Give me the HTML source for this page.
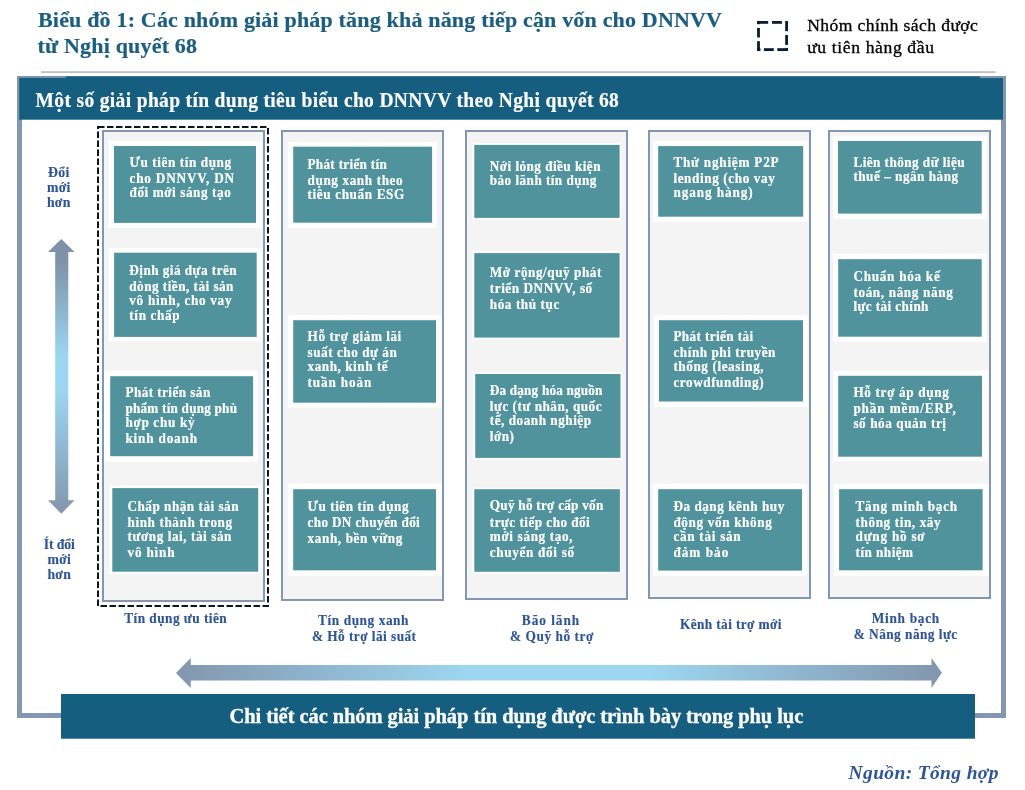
<!DOCTYPE html>
<html><head><meta charset="utf-8"><title>Biểu đồ 1</title>
<style>html,body{margin:0;padding:0;background:#fff;} svg{display:block;will-change:transform;} text{font-family:"Liberation Serif", serif;}</style>
</head><body>
<svg width="1025" height="790" viewBox="0 0 1025 790">
<rect x="0" y="0" width="1025" height="790" fill="#ffffff"/>
<text x="38.00" y="26.50" font-size="22" fill="#1b5e80" font-weight="bold" font-style="normal" text-anchor="start" textLength="684.0" lengthAdjust="spacing" stroke="#1b5e80" stroke-width="0.2" >Biểu đồ 1: Các nhóm giải pháp tăng khả năng tiếp cận vốn cho DNNVV</text>
<text x="37.50" y="52.50" font-size="22" fill="#1b5e80" font-weight="bold" font-style="normal" text-anchor="start" textLength="159.5" lengthAdjust="spacing" stroke="#1b5e80" stroke-width="0.2" >từ Nghị quyết 68</text>
<rect x="757.10" y="21.00" width="11.10" height="2.80" fill="#0b1f30" />
<rect x="772.00" y="21.00" width="9.90" height="2.80" fill="#0b1f30" />
<rect x="785.20" y="21.00" width="2.80" height="10.20" fill="#0b1f30" />
<rect x="785.20" y="35.00" width="2.80" height="9.90" fill="#0b1f30" />
<rect x="785.20" y="47.90" width="2.80" height="3.10" fill="#0b1f30" />
<rect x="757.10" y="48.20" width="3.30" height="2.80" fill="#0b1f30" />
<rect x="763.90" y="48.20" width="9.90" height="2.80" fill="#0b1f30" />
<rect x="777.30" y="48.20" width="10.70" height="2.80" fill="#0b1f30" />
<rect x="757.10" y="21.00" width="2.80" height="3.20" fill="#0b1f30" />
<rect x="757.10" y="27.90" width="2.80" height="9.60" fill="#0b1f30" />
<rect x="757.10" y="41.20" width="2.80" height="9.80" fill="#0b1f30" />
<text transform="translate(807.20 31.00) scale(1.06 1)" font-size="16.6" fill="#000000" font-weight="normal" font-style="normal" text-anchor="start" textLength="161.0" lengthAdjust="spacing" stroke="#000000" stroke-width="0.3" >Nhóm chính sách được</text>
<text transform="translate(807.20 52.60) scale(1.06 1)" font-size="16.6" fill="#000000" font-weight="normal" font-style="normal" text-anchor="start" textLength="119.6" lengthAdjust="spacing" stroke="#000000" stroke-width="0.3" >ưu tiên hàng đầu</text>
<rect x="41.00" y="71.20" width="954.60" height="1.80" fill="#bfbfbf" />
<rect x="19.5" y="78.5" width="984" height="637" fill="none" stroke="#8497b0" stroke-width="5"/>
<rect x="19.20" y="76.40" width="983.80" height="43.30" fill="#165e80" />
<rect x="17.20" y="76.10" width="48.60" height="1.80" fill="#8497b0" />
<rect x="979.90" y="76.00" width="26.00" height="2.10" fill="#8497b0" />
<text transform="translate(35.60 106.80) scale(0.93 1)" font-size="21" fill="#ffffff" font-weight="bold" font-style="normal" text-anchor="start" textLength="627.2" lengthAdjust="spacing" stroke="#ffffff" stroke-width="0.2" >Một số giải pháp tín dụng tiêu biểu cho DNNVV theo Nghị quyết 68</text>
<rect x="98" y="127" width="170" height="479" fill="none" stroke="#0d1520" stroke-width="2" stroke-dasharray="6.5 2.5"/>
<rect x="103.00" y="131.00" width="161.00" height="470.00" fill="#f4f4f4" stroke="#8497b0" stroke-width="2"/>
<rect x="282.00" y="131.00" width="161.00" height="469.00" fill="#f4f4f4" stroke="#8497b0" stroke-width="2"/>
<rect x="466.00" y="131.00" width="161.00" height="468.00" fill="#f4f4f4" stroke="#8497b0" stroke-width="2"/>
<rect x="649.00" y="131.00" width="161.00" height="467.00" fill="#f4f4f4" stroke="#8497b0" stroke-width="2"/>
<rect x="829.00" y="131.00" width="161.00" height="467.00" fill="#f4f4f4" stroke="#8497b0" stroke-width="2"/>
<rect x="108.70" y="140.80" width="152.90" height="86.90" fill="#ffffff" />
<rect x="114.00" y="146.00" width="142.00" height="76.90" fill="#50939c" />
<text transform="translate(129.50 166.60) scale(0.93 1)" font-size="14.2" fill="#ffffff" font-weight="bold" font-style="normal" text-anchor="start" textLength="109.7" lengthAdjust="spacing" stroke="#ffffff" stroke-width="0.2" id="c0_0" letter-spacing="0.484">Ưu tiên tín dụng</text>
<text transform="translate(129.50 183.20) scale(0.93 1)" font-size="14.2" fill="#ffffff" font-weight="bold" font-style="normal" text-anchor="start" textLength="112.9" lengthAdjust="spacing" stroke="#ffffff" stroke-width="0.2" id="c0_1" letter-spacing="0.484">cho DNNVV, DN</text>
<text transform="translate(129.50 197.30) scale(0.93 1)" font-size="14.2" fill="#ffffff" font-weight="bold" font-style="normal" text-anchor="start" textLength="109.4" lengthAdjust="spacing" stroke="#ffffff" stroke-width="0.2" id="c0_2" letter-spacing="0.484">đối mới sáng tạo</text>
<rect x="108.70" y="248.10" width="153.50" height="93.30" fill="#ffffff" />
<rect x="114.10" y="252.70" width="142.60" height="84.20" fill="#50939c" />
<text transform="translate(129.30 274.50) scale(0.93 1)" font-size="14.2" fill="#ffffff" font-weight="bold" font-style="normal" text-anchor="start" textLength="115.9" lengthAdjust="spacing" stroke="#ffffff" stroke-width="0.2" id="c1_0" letter-spacing="0.484">Định giá dựa trên</text>
<text transform="translate(129.30 290.60) scale(0.93 1)" font-size="14.2" fill="#ffffff" font-weight="bold" font-style="normal" text-anchor="start" textLength="112.5" lengthAdjust="spacing" stroke="#ffffff" stroke-width="0.2" id="c1_1" letter-spacing="0.484">dòng tiền, tài sản</text>
<text transform="translate(129.30 304.90) scale(0.93 1)" font-size="14.2" fill="#ffffff" font-weight="bold" font-style="normal" text-anchor="start" textLength="110.4" lengthAdjust="spacing" stroke="#ffffff" stroke-width="0.2" id="c1_2" letter-spacing="0.484">vô hình, cho vay</text>
<text transform="translate(129.30 319.90) scale(0.93 1)" font-size="14.2" fill="#ffffff" font-weight="bold" font-style="normal" text-anchor="start" textLength="54.7" lengthAdjust="spacing" stroke="#ffffff" stroke-width="0.2" id="c1_3" letter-spacing="0.484">tín chấp</text>
<rect x="104.10" y="370.50" width="153.50" height="91.20" fill="#ffffff" />
<rect x="110.20" y="376.20" width="142.90" height="80.00" fill="#50939c" />
<text transform="translate(125.40 396.90) scale(0.93 1)" font-size="14.2" fill="#ffffff" font-weight="bold" font-style="normal" text-anchor="start" textLength="91.7" lengthAdjust="spacing" stroke="#ffffff" stroke-width="0.2" id="c2_0" letter-spacing="0.484">Phát triển sản</text>
<text transform="translate(125.40 413.00) scale(0.93 1)" font-size="14.2" fill="#ffffff" font-weight="bold" font-style="normal" text-anchor="start" textLength="120.5" lengthAdjust="spacing" stroke="#ffffff" stroke-width="0.2" id="c2_1" letter-spacing="0.484">phẩm tín dụng phù</text>
<text transform="translate(125.40 426.70) scale(0.93 1)" font-size="14.2" fill="#ffffff" font-weight="bold" font-style="normal" text-anchor="start" textLength="74.8" lengthAdjust="spacing" stroke="#ffffff" stroke-width="0.2" id="c2_2" letter-spacing="0.484">hợp chu kỳ</text>
<text transform="translate(125.40 442.50) scale(0.93 1)" font-size="14.2" fill="#ffffff" font-weight="bold" font-style="normal" text-anchor="start" textLength="77.5" lengthAdjust="spacing" stroke="#ffffff" stroke-width="0.2" id="c2_3" letter-spacing="0.484">kinh doanh</text>
<rect x="109.60" y="485.70" width="151.10" height="88.40" fill="#ffffff" />
<rect x="112.30" y="488.10" width="145.90" height="83.60" fill="#50939c" />
<text transform="translate(127.50 511.20) scale(0.93 1)" font-size="14.2" fill="#ffffff" font-weight="bold" font-style="normal" text-anchor="start" textLength="119.9" lengthAdjust="spacing" stroke="#ffffff" stroke-width="0.2" id="c3_0" letter-spacing="0.484">Chấp nhận tài sản</text>
<text transform="translate(127.50 526.80) scale(0.93 1)" font-size="14.2" fill="#ffffff" font-weight="bold" font-style="normal" text-anchor="start" textLength="113.0" lengthAdjust="spacing" stroke="#ffffff" stroke-width="0.2" id="c3_1" letter-spacing="0.484">hình thành trong</text>
<text transform="translate(127.50 540.70) scale(0.93 1)" font-size="14.2" fill="#ffffff" font-weight="bold" font-style="normal" text-anchor="start" textLength="112.2" lengthAdjust="spacing" stroke="#ffffff" stroke-width="0.2" id="c3_2" letter-spacing="0.484">tương lai, tài sản</text>
<text transform="translate(127.50 556.50) scale(0.93 1)" font-size="14.2" fill="#ffffff" font-weight="bold" font-style="normal" text-anchor="start" textLength="51.1" lengthAdjust="spacing" stroke="#ffffff" stroke-width="0.2" id="c3_3" letter-spacing="0.484">vô hình</text>
<rect x="287.80" y="141.90" width="148.90" height="86.00" fill="#ffffff" />
<rect x="293.20" y="146.70" width="138.90" height="76.00" fill="#50939c" />
<text transform="translate(307.50 168.60) scale(0.93 1)" font-size="14.2" fill="#ffffff" font-weight="bold" font-style="normal" text-anchor="start" textLength="85.8" lengthAdjust="spacing" stroke="#ffffff" stroke-width="0.2" id="c4_0" letter-spacing="0.484">Phát triển tín</text>
<text transform="translate(307.50 184.70) scale(0.93 1)" font-size="14.2" fill="#ffffff" font-weight="bold" font-style="normal" text-anchor="start" textLength="102.8" lengthAdjust="spacing" stroke="#ffffff" stroke-width="0.2" id="c4_1" letter-spacing="0.484">dụng xanh theo</text>
<text transform="translate(307.50 199.00) scale(0.93 1)" font-size="14.2" fill="#ffffff" font-weight="bold" font-style="normal" text-anchor="start" textLength="104.6" lengthAdjust="spacing" stroke="#ffffff" stroke-width="0.2" id="c4_2" letter-spacing="0.484">tiêu chuẩn ESG</text>
<rect x="287.90" y="314.90" width="153.30" height="92.60" fill="#ffffff" />
<rect x="293.20" y="320.20" width="142.80" height="82.50" fill="#50939c" />
<text transform="translate(307.60 340.70) scale(0.93 1)" font-size="14.2" fill="#ffffff" font-weight="bold" font-style="normal" text-anchor="start" textLength="101.2" lengthAdjust="spacing" stroke="#ffffff" stroke-width="0.2" id="c5_0" letter-spacing="0.484">Hỗ trợ giảm lãi</text>
<text transform="translate(307.60 356.50) scale(0.93 1)" font-size="14.2" fill="#ffffff" font-weight="bold" font-style="normal" text-anchor="start" textLength="96.4" lengthAdjust="spacing" stroke="#ffffff" stroke-width="0.2" id="c5_1" letter-spacing="0.484">suất cho dự án</text>
<text transform="translate(307.60 370.60) scale(0.93 1)" font-size="14.2" fill="#ffffff" font-weight="bold" font-style="normal" text-anchor="start" textLength="86.6" lengthAdjust="spacing" stroke="#ffffff" stroke-width="0.2" id="c5_2" letter-spacing="0.484">xanh, kinh tế</text>
<text transform="translate(307.60 387.00) scale(0.93 1)" font-size="14.2" fill="#ffffff" font-weight="bold" font-style="normal" text-anchor="start" textLength="68.9" lengthAdjust="spacing" stroke="#ffffff" stroke-width="0.2" id="c5_3" letter-spacing="0.484">tuần hoàn</text>
<rect x="287.80" y="483.70" width="153.80" height="92.10" fill="#ffffff" />
<rect x="293.20" y="489.20" width="142.90" height="81.10" fill="#50939c" />
<text transform="translate(307.50 511.00) scale(0.93 1)" font-size="14.2" fill="#ffffff" font-weight="bold" font-style="normal" text-anchor="start" textLength="109.1" lengthAdjust="spacing" stroke="#ffffff" stroke-width="0.2" id="c6_0" letter-spacing="0.484">Ưu tiên tín dụng</text>
<text transform="translate(307.50 527.40) scale(0.93 1)" font-size="14.2" fill="#ffffff" font-weight="bold" font-style="normal" text-anchor="start" textLength="121.2" lengthAdjust="spacing" stroke="#ffffff" stroke-width="0.2" id="c6_1" letter-spacing="0.484">cho DN chuyển đổi</text>
<text transform="translate(307.50 542.90) scale(0.93 1)" font-size="14.2" fill="#ffffff" font-weight="bold" font-style="normal" text-anchor="start" textLength="102.4" lengthAdjust="spacing" stroke="#ffffff" stroke-width="0.2" id="c6_2" letter-spacing="0.484">xanh, bền vững</text>
<rect x="472.20" y="142.80" width="148.90" height="76.90" fill="#ffffff" />
<rect x="474.30" y="144.90" width="145.30" height="73.00" fill="#50939c" />
<text transform="translate(489.80 171.30) scale(0.93 1)" font-size="14.2" fill="#ffffff" font-weight="bold" font-style="normal" text-anchor="start" textLength="119.5" lengthAdjust="spacing" stroke="#ffffff" stroke-width="0.2" id="c7_0" letter-spacing="0.484">Nới lỏng điều kiện</text>
<text transform="translate(489.80 184.90) scale(0.93 1)" font-size="14.2" fill="#ffffff" font-weight="bold" font-style="normal" text-anchor="start" textLength="115.1" lengthAdjust="spacing" stroke="#ffffff" stroke-width="0.2" id="c7_1" letter-spacing="0.484">bảo lãnh tín dụng</text>
<rect x="472.20" y="250.70" width="148.80" height="88.80" fill="#ffffff" />
<rect x="474.30" y="253.10" width="145.30" height="84.50" fill="#50939c" />
<text transform="translate(489.80 277.00) scale(0.93 1)" font-size="14.2" fill="#ffffff" font-weight="bold" font-style="normal" text-anchor="start" textLength="120.4" lengthAdjust="spacing" stroke="#ffffff" stroke-width="0.2" id="c8_0" letter-spacing="0.484">Mở rộng/quỹ phát</text>
<text transform="translate(489.80 292.60) scale(0.93 1)" font-size="14.2" fill="#ffffff" font-weight="bold" font-style="normal" text-anchor="start" textLength="110.6" lengthAdjust="spacing" stroke="#ffffff" stroke-width="0.2" id="c8_1" letter-spacing="0.484">triển DNNVV, số</text>
<text transform="translate(489.80 309.10) scale(0.93 1)" font-size="14.2" fill="#ffffff" font-weight="bold" font-style="normal" text-anchor="start" textLength="75.2" lengthAdjust="spacing" stroke="#ffffff" stroke-width="0.2" id="c8_2" letter-spacing="0.484">hóa thủ tục</text>
<rect x="473.10" y="372.20" width="148.90" height="87.20" fill="#ffffff" />
<rect x="475.20" y="374.00" width="145.30" height="83.90" fill="#50939c" />
<text transform="translate(489.80 395.10) scale(0.93 1)" font-size="14.2" fill="#ffffff" font-weight="bold" font-style="normal" text-anchor="start" textLength="121.6" lengthAdjust="spacing" stroke="#ffffff" stroke-width="0.2" id="c9_0" letter-spacing="0.484">Đa dạng hóa nguồn</text>
<text transform="translate(489.80 411.40) scale(0.93 1)" font-size="14.2" fill="#ffffff" font-weight="bold" font-style="normal" text-anchor="start" textLength="120.7" lengthAdjust="spacing" stroke="#ffffff" stroke-width="0.2" id="c9_1" letter-spacing="0.484">lực (tư nhân, quốc</text>
<text transform="translate(489.80 425.30) scale(0.93 1)" font-size="14.2" fill="#ffffff" font-weight="bold" font-style="normal" text-anchor="start" textLength="109.4" lengthAdjust="spacing" stroke="#ffffff" stroke-width="0.2" id="c9_2" letter-spacing="0.484">tế, doanh nghiệp</text>
<text transform="translate(489.80 440.90) scale(0.93 1)" font-size="14.2" fill="#ffffff" font-weight="bold" font-style="normal" text-anchor="start" textLength="26.4" lengthAdjust="spacing" stroke="#ffffff" stroke-width="0.2" id="c9_3" letter-spacing="0.484">lớn)</text>
<rect x="472.20" y="487.70" width="148.80" height="85.70" fill="#ffffff" />
<rect x="474.30" y="489.20" width="145.60" height="82.60" fill="#50939c" />
<text transform="translate(489.80 510.40) scale(0.93 1)" font-size="14.2" fill="#ffffff" font-weight="bold" font-style="normal" text-anchor="start" textLength="122.5" lengthAdjust="spacing" stroke="#ffffff" stroke-width="0.2" id="c10_0" letter-spacing="0.484">Quỹ hỗ trợ cấp vốn</text>
<text transform="translate(489.80 526.80) scale(0.93 1)" font-size="14.2" fill="#ffffff" font-weight="bold" font-style="normal" text-anchor="start" textLength="108.0" lengthAdjust="spacing" stroke="#ffffff" stroke-width="0.2" id="c10_1" letter-spacing="0.484">trực tiếp cho đổi</text>
<text transform="translate(489.80 540.80) scale(0.93 1)" font-size="14.2" fill="#ffffff" font-weight="bold" font-style="normal" text-anchor="start" textLength="89.5" lengthAdjust="spacing" stroke="#ffffff" stroke-width="0.2" id="c10_2" letter-spacing="0.484">mới sáng tạo,</text>
<text transform="translate(489.80 556.90) scale(0.93 1)" font-size="14.2" fill="#ffffff" font-weight="bold" font-style="normal" text-anchor="start" textLength="91.1" lengthAdjust="spacing" stroke="#ffffff" stroke-width="0.2" id="c10_3" letter-spacing="0.484">chuyển đổi số</text>
<rect x="653.10" y="140.70" width="154.70" height="81.10" fill="#ffffff" />
<rect x="658.20" y="146.10" width="145.00" height="70.60" fill="#50939c" />
<text transform="translate(673.40 167.10) scale(0.93 1)" font-size="14.2" fill="#ffffff" font-weight="bold" font-style="normal" text-anchor="start" textLength="113.6" lengthAdjust="spacing" stroke="#ffffff" stroke-width="0.2" id="c11_0" letter-spacing="0.484">Thử nghiệm P2P</text>
<text transform="translate(673.40 183.20) scale(0.93 1)" font-size="14.2" fill="#ffffff" font-weight="bold" font-style="normal" text-anchor="start" textLength="109.5" lengthAdjust="spacing" stroke="#ffffff" stroke-width="0.2" id="c11_1" letter-spacing="0.484">lending (cho vay</text>
<text transform="translate(673.40 196.90) scale(0.93 1)" font-size="14.2" fill="#ffffff" font-weight="bold" font-style="normal" text-anchor="start" textLength="85.6" lengthAdjust="spacing" stroke="#ffffff" stroke-width="0.2" id="c11_2" letter-spacing="0.484">ngang hàng)</text>
<rect x="654.00" y="314.90" width="153.70" height="91.70" fill="#ffffff" />
<rect x="659.00" y="320.20" width="144.00" height="81.30" fill="#50939c" />
<text transform="translate(673.40 340.70) scale(0.93 1)" font-size="14.2" fill="#ffffff" font-weight="bold" font-style="normal" text-anchor="start" textLength="86.3" lengthAdjust="spacing" stroke="#ffffff" stroke-width="0.2" id="c12_0" letter-spacing="0.484">Phát triển tài</text>
<text transform="translate(673.40 356.50) scale(0.93 1)" font-size="14.2" fill="#ffffff" font-weight="bold" font-style="normal" text-anchor="start" textLength="110.2" lengthAdjust="spacing" stroke="#ffffff" stroke-width="0.2" id="c12_1" letter-spacing="0.484">chính phi truyền</text>
<text transform="translate(673.40 370.60) scale(0.93 1)" font-size="14.2" fill="#ffffff" font-weight="bold" font-style="normal" text-anchor="start" textLength="97.5" lengthAdjust="spacing" stroke="#ffffff" stroke-width="0.2" id="c12_2" letter-spacing="0.484">thống (leasing,</text>
<text transform="translate(673.40 387.00) scale(0.93 1)" font-size="14.2" fill="#ffffff" font-weight="bold" font-style="normal" text-anchor="start" textLength="97.4" lengthAdjust="spacing" stroke="#ffffff" stroke-width="0.2" id="c12_3" letter-spacing="0.484">crowdfunding)</text>
<rect x="652.80" y="483.70" width="154.40" height="92.10" fill="#ffffff" />
<rect x="658.20" y="489.20" width="143.80" height="81.40" fill="#50939c" />
<text transform="translate(673.40 511.00) scale(0.93 1)" font-size="14.2" fill="#ffffff" font-weight="bold" font-style="normal" text-anchor="start" textLength="119.7" lengthAdjust="spacing" stroke="#ffffff" stroke-width="0.2" id="c13_0" letter-spacing="0.484">Đa dạng kênh huy</text>
<text transform="translate(673.40 527.20) scale(0.93 1)" font-size="14.2" fill="#ffffff" font-weight="bold" font-style="normal" text-anchor="start" textLength="106.4" lengthAdjust="spacing" stroke="#ffffff" stroke-width="0.2" id="c13_1" letter-spacing="0.484">động vốn không</text>
<text transform="translate(673.40 540.90) scale(0.93 1)" font-size="14.2" fill="#ffffff" font-weight="bold" font-style="normal" text-anchor="start" textLength="72.8" lengthAdjust="spacing" stroke="#ffffff" stroke-width="0.2" id="c13_2" letter-spacing="0.484">cần tài sản</text>
<text transform="translate(673.40 556.90) scale(0.93 1)" font-size="14.2" fill="#ffffff" font-weight="bold" font-style="normal" text-anchor="start" textLength="59.5" lengthAdjust="spacing" stroke="#ffffff" stroke-width="0.2" id="c13_3" letter-spacing="0.484">đảm bảo</text>
<rect x="833.00" y="135.90" width="154.20" height="82.90" fill="#ffffff" />
<rect x="838.00" y="141.00" width="143.70" height="72.60" fill="#50939c" />
<text transform="translate(853.40 166.70) scale(0.93 1)" font-size="14.2" fill="#ffffff" font-weight="bold" font-style="normal" text-anchor="start" textLength="120.1" lengthAdjust="spacing" stroke="#ffffff" stroke-width="0.2" id="c14_0" letter-spacing="0.484">Liên thông dữ liệu</text>
<text transform="translate(853.40 180.70) scale(0.93 1)" font-size="14.2" fill="#ffffff" font-weight="bold" font-style="normal" text-anchor="start" textLength="113.1" lengthAdjust="spacing" stroke="#ffffff" stroke-width="0.2" id="c14_1" letter-spacing="0.484">thuế – ngân hàng</text>
<rect x="833.00" y="253.70" width="154.00" height="88.20" fill="#ffffff" />
<rect x="838.20" y="259.20" width="143.50" height="77.50" fill="#50939c" />
<text transform="translate(853.40 281.10) scale(0.93 1)" font-size="14.2" fill="#ffffff" font-weight="bold" font-style="normal" text-anchor="start" textLength="93.4" lengthAdjust="spacing" stroke="#ffffff" stroke-width="0.2" id="c15_0" letter-spacing="0.484">Chuẩn hóa kế</text>
<text transform="translate(853.40 297.20) scale(0.93 1)" font-size="14.2" fill="#ffffff" font-weight="bold" font-style="normal" text-anchor="start" textLength="107.3" lengthAdjust="spacing" stroke="#ffffff" stroke-width="0.2" id="c15_1" letter-spacing="0.484">toán, nâng năng</text>
<text transform="translate(853.40 310.60) scale(0.93 1)" font-size="14.2" fill="#ffffff" font-weight="bold" font-style="normal" text-anchor="start" textLength="81.2" lengthAdjust="spacing" stroke="#ffffff" stroke-width="0.2" id="c15_2" letter-spacing="0.484">lực tài chính</text>
<rect x="833.10" y="370.60" width="154.70" height="90.60" fill="#ffffff" />
<rect x="838.20" y="375.80" width="143.80" height="80.90" fill="#50939c" />
<text transform="translate(853.40 396.80) scale(0.93 1)" font-size="14.2" fill="#ffffff" font-weight="bold" font-style="normal" text-anchor="start" textLength="103.2" lengthAdjust="spacing" stroke="#ffffff" stroke-width="0.2" id="c16_0" letter-spacing="0.484">Hỗ trợ áp dụng</text>
<text transform="translate(853.40 413.00) scale(0.93 1)" font-size="14.2" fill="#ffffff" font-weight="bold" font-style="normal" text-anchor="start" textLength="110.7" lengthAdjust="spacing" stroke="#ffffff" stroke-width="0.2" id="c16_1" letter-spacing="0.484">phần mềm/ERP,</text>
<text transform="translate(853.40 428.40) scale(0.93 1)" font-size="14.2" fill="#ffffff" font-weight="bold" font-style="normal" text-anchor="start" textLength="100.1" lengthAdjust="spacing" stroke="#ffffff" stroke-width="0.2" id="c16_2" letter-spacing="0.484">số hóa quản trị</text>
<rect x="833.70" y="483.70" width="155.00" height="92.10" fill="#ffffff" />
<rect x="839.10" y="489.20" width="143.50" height="81.10" fill="#50939c" />
<text transform="translate(855.60 511.00) scale(0.93 1)" font-size="14.2" fill="#ffffff" font-weight="bold" font-style="normal" text-anchor="start" textLength="109.6" lengthAdjust="spacing" stroke="#ffffff" stroke-width="0.2" id="c17_0" letter-spacing="0.484">Tăng minh bạch</text>
<text transform="translate(855.60 527.20) scale(0.93 1)" font-size="14.2" fill="#ffffff" font-weight="bold" font-style="normal" text-anchor="start" textLength="91.9" lengthAdjust="spacing" stroke="#ffffff" stroke-width="0.2" id="c17_1" letter-spacing="0.484">thông tin, xây</text>
<text transform="translate(855.60 540.90) scale(0.93 1)" font-size="14.2" fill="#ffffff" font-weight="bold" font-style="normal" text-anchor="start" textLength="74.7" lengthAdjust="spacing" stroke="#ffffff" stroke-width="0.2" id="c17_2" letter-spacing="0.484">dựng hồ sơ</text>
<text transform="translate(855.60 556.90) scale(0.93 1)" font-size="14.2" fill="#ffffff" font-weight="bold" font-style="normal" text-anchor="start" textLength="62.3" lengthAdjust="spacing" stroke="#ffffff" stroke-width="0.2" id="c17_3" letter-spacing="0.484">tín nhiệm</text>
<text transform="translate(175.50 622.80) scale(0.92 1)" font-size="14.5" fill="#2f5597" font-weight="bold" font-style="normal" text-anchor="middle" textLength="111.5" lengthAdjust="spacing" stroke="#2f5597" stroke-width="0.15" >Tín dụng ưu tiên</text>
<text transform="translate(363.30 624.60) scale(0.92 1)" font-size="14.5" fill="#2f5597" font-weight="bold" font-style="normal" text-anchor="middle" textLength="98.3" lengthAdjust="spacing" stroke="#2f5597" stroke-width="0.15" >Tín dụng xanh</text>
<text transform="translate(364.00 640.70) scale(0.92 1)" font-size="14.5" fill="#2f5597" font-weight="bold" font-style="normal" text-anchor="middle" textLength="113.2" lengthAdjust="spacing" stroke="#2f5597" stroke-width="0.15" >&amp; Hỗ trợ lãi suất</text>
<text transform="translate(550.50 624.60) scale(0.92 1)" font-size="14.5" fill="#2f5597" font-weight="bold" font-style="normal" text-anchor="middle" textLength="62.3" lengthAdjust="spacing" stroke="#2f5597" stroke-width="0.15" >Bão lãnh</text>
<text transform="translate(551.70 640.70) scale(0.92 1)" font-size="14.5" fill="#2f5597" font-weight="bold" font-style="normal" text-anchor="middle" textLength="90.8" lengthAdjust="spacing" stroke="#2f5597" stroke-width="0.15" >&amp; Quỹ hỗ trợ</text>
<text transform="translate(730.70 628.70) scale(0.92 1)" font-size="14.5" fill="#2f5597" font-weight="bold" font-style="normal" text-anchor="middle" textLength="110.2" lengthAdjust="spacing" stroke="#2f5597" stroke-width="0.15" >Kênh tài trợ mới</text>
<text transform="translate(905.50 622.70) scale(0.92 1)" font-size="14.5" fill="#2f5597" font-weight="bold" font-style="normal" text-anchor="middle" textLength="73.2" lengthAdjust="spacing" stroke="#2f5597" stroke-width="0.15" >Minh bạch</text>
<text transform="translate(905.50 638.60) scale(0.92 1)" font-size="14.5" fill="#2f5597" font-weight="bold" font-style="normal" text-anchor="middle" textLength="112.6" lengthAdjust="spacing" stroke="#2f5597" stroke-width="0.15" >&amp; Nâng năng lực</text>
<text transform="translate(58.80 176.90) scale(0.95 1)" font-size="14.5" fill="#2f5597" font-weight="bold" font-style="normal" text-anchor="middle" stroke="#2f5597" stroke-width="0.15" letter-spacing="0.3">Đổi</text>
<text transform="translate(58.80 192.40) scale(0.95 1)" font-size="14.5" fill="#2f5597" font-weight="bold" font-style="normal" text-anchor="middle" stroke="#2f5597" stroke-width="0.15" letter-spacing="0.3">mới</text>
<text transform="translate(58.80 206.80) scale(0.95 1)" font-size="14.5" fill="#2f5597" font-weight="bold" font-style="normal" text-anchor="middle" stroke="#2f5597" stroke-width="0.15" letter-spacing="0.3">hơn</text>
<text transform="translate(59.30 549.00) scale(0.95 1)" font-size="14.5" fill="#2f5597" font-weight="bold" font-style="normal" text-anchor="middle" textLength="32.6" lengthAdjust="spacing" stroke="#2f5597" stroke-width="0.15" >Ít đổi</text>
<text transform="translate(59.30 564.30) scale(0.95 1)" font-size="14.5" fill="#2f5597" font-weight="bold" font-style="normal" text-anchor="middle" stroke="#2f5597" stroke-width="0.15" letter-spacing="0.3">mới</text>
<text transform="translate(59.30 578.70) scale(0.95 1)" font-size="14.5" fill="#2f5597" font-weight="bold" font-style="normal" text-anchor="middle" stroke="#2f5597" stroke-width="0.15" letter-spacing="0.3">hơn</text>
<defs><linearGradient id="gv" x1="0" y1="0" x2="0" y2="1"><stop offset="0" stop-color="#7f8fa8"/><stop offset="0.09" stop-color="#8093ab"/><stop offset="0.43" stop-color="#9dd6f0"/><stop offset="0.55" stop-color="#9dd6f0"/><stop offset="1" stop-color="#8396ae"/></linearGradient><linearGradient id="gh" x1="0" y1="0" x2="1" y2="0"><stop offset="0" stop-color="#8296ae"/><stop offset="0.38" stop-color="#9dd6f0"/><stop offset="0.62" stop-color="#9dd6f0"/><stop offset="1" stop-color="#8296ae"/></linearGradient></defs>
<path d="M61.3 239 L74.6 252 L68.3 252 L68.3 500.2 L74.6 500.2 L61.3 513.7 L48 500.2 L55.2 500.2 L55.2 252 L48 252 Z" fill="url(#gv)"/>
<path d="M176 673 L190.75 658 L190.75 665.1 L931.5 665.1 L931.5 658 L941.9 672.8 L931.5 688 L931.5 680.5 L190.75 680.5 L190.75 688 Z" fill="url(#gh)"/>
<rect x="61.00" y="694.00" width="914.00" height="44.70" fill="#165e80" />
<text x="229.50" y="722.80" font-size="20.5" fill="#ffffff" font-weight="bold" font-style="normal" text-anchor="start" textLength="573.8" lengthAdjust="spacing" stroke="#ffffff" stroke-width="0.3" >Chi tiết các nhóm giải pháp tín dụng được trình bày trong phụ lục</text>
<text x="848.60" y="778.50" font-size="19.5" fill="#2f5597" font-weight="bold" font-style="italic" text-anchor="start" textLength="149.8" lengthAdjust="spacing" >Nguồn: Tổng hợp</text>
</svg>
</body></html>
